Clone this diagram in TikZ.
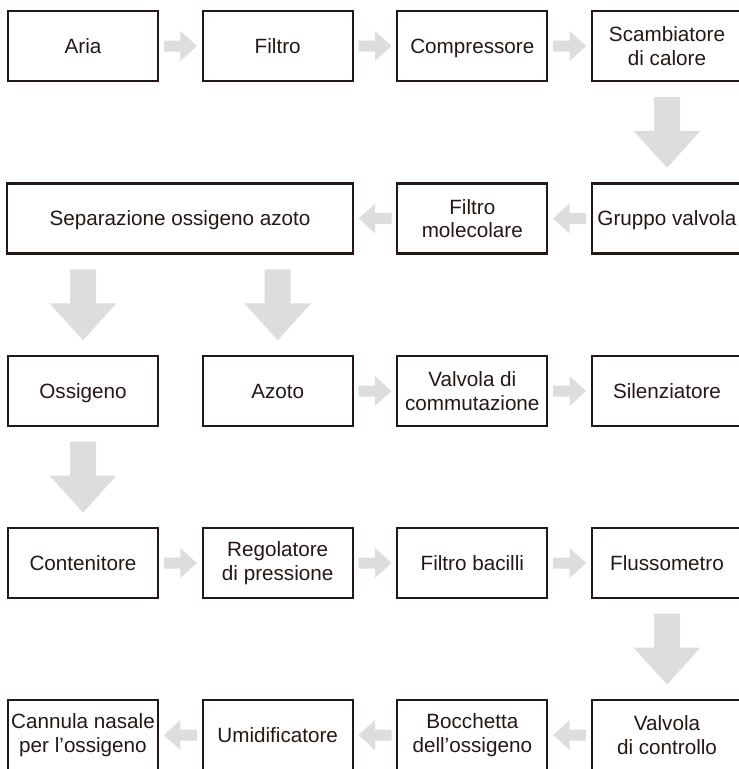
\documentclass[tikz,border=0pt]{standalone}
\usepackage{fontspec}
\setmainfont{Liberation Sans}
\usetikzlibrary{calc}
\definecolor{boxline}{HTML}{231815}
\definecolor{arrowgray}{HTML}{DCDDDD}
\begin{document}
\begin{tikzpicture}[x=0.75pt,y=-0.75pt,
  box/.style={draw=boxline, line width=1.6pt, minimum width=112.5pt, minimum height=52.5pt,
    inner sep=0pt, align=center, text=boxline, font=\fontsize{15.5}{17.5}\selectfont},
  sl/.style={box, text height=11pt, text depth=0pt},
  harrow/.pic={\fill[arrowgray] (-16.5,-5.5) -- (0,-5.5) -- (0,-15) -- (16.5,0) -- (0,15) -- (0,5.5) -- (-16.5,5.5) -- cycle;},
  varrow/.pic={\fill[arrowgray] (-13,-35.5) -- (13,-35.5) -- (13,-1.5) -- (33.5,-1.5) -- (0,35.5) -- (-33.5,-1.5) -- (-13,-1.5) -- cycle;}
]
\useasboundingbox (0,0) rectangle (739,769);
\clip (0,0) rectangle (739,769);
% row 1
\node[sl] (aria)   at (83,46)    {Aria};
\node[sl] (filtro) at (277.7,46) {Filtro};
\node[sl] (compr)  at (472.3,46) {Compressore};
\node[box] (scamb)  at (667,46)   {Scambiatore\\di calore};
% row 2
\node[sl, minimum width=259.5pt] (sep) at (180,218.5) {Separazione ossigeno azoto};
\node[box] (filmol) at (472.3,218.5) {Filtro\\molecolare};
\node[sl] (gruppo) at (667,218.5)   {Gruppo valvola};
% row 3
\node[sl] (oss)     at (83,391)    {Ossigeno};
\node[sl] (azoto)   at (277.7,391) {Azoto};
\node[box] (commut)  at (472.3,391) {Valvola di\\commutazione};
\node[sl] (silenz)  at (667,391)   {Silenziatore};
% row 4
\node[sl] (cont)    at (83,563)    {Contenitore};
\node[box] (regol)   at (277.7,563) {Regolatore\\di pressione};
\node[sl] (bacilli) at (472.3,563) {Filtro bacilli};
\node[sl] (fluss)   at (667,563)   {Flussometro};
% row 5
\node[box] (cannula) at (83,735)    {Cannula nasale\\per l’ossigeno};
\node[sl] (umid)    at (277.7,735) {Umidificatore};
\node[box] (bocch)   at (472.3,735) {Bocchetta\\dell’ossigeno};
\node[box] (vcontr)  at (667,735)   {Valvola\\di controllo};
% horizontal arrows (right)
\pic at ($(aria.east)!0.5!(filtro.west)$) {harrow};
\pic at ($(filtro.east)!0.5!(compr.west)$) {harrow};
\pic at ($(compr.east)!0.5!(scamb.west)$) {harrow};
\pic at ($(azoto.east)!0.5!(commut.west)$) {harrow};
\pic at ($(commut.east)!0.5!(silenz.west)$) {harrow};
\pic at ($(cont.east)!0.5!(regol.west)$) {harrow};
\pic at ($(regol.east)!0.5!(bacilli.west)$) {harrow};
\pic at ($(bacilli.east)!0.5!(fluss.west)$) {harrow};
% horizontal arrows (left)
\pic[rotate=180] at ($(gruppo.west)!0.5!(filmol.east)$) {harrow};
\pic[rotate=180] at ($(filmol.west)!0.5!(sep.east)$) {harrow};
\pic[rotate=180] at ($(vcontr.west)!0.5!(bocch.east)$) {harrow};
\pic[rotate=180] at ($(bocch.west)!0.5!(umid.east)$) {harrow};
\pic[rotate=180] at ($(umid.west)!0.5!(cannula.east)$) {harrow};
% vertical arrows
\pic at ($(scamb.south)!0.5!(gruppo.north)$) {varrow};
\pic at ($(sep.south -| oss.north)!0.5!(oss.north)$) {varrow};
\pic at ($(sep.south -| azoto.north)!0.5!(azoto.north)$) {varrow};
\pic at ($(oss.south)!0.5!(cont.north)$) {varrow};
\pic at ($(fluss.south)!0.5!(vcontr.north)$) {varrow};
\end{tikzpicture}
\end{document}
